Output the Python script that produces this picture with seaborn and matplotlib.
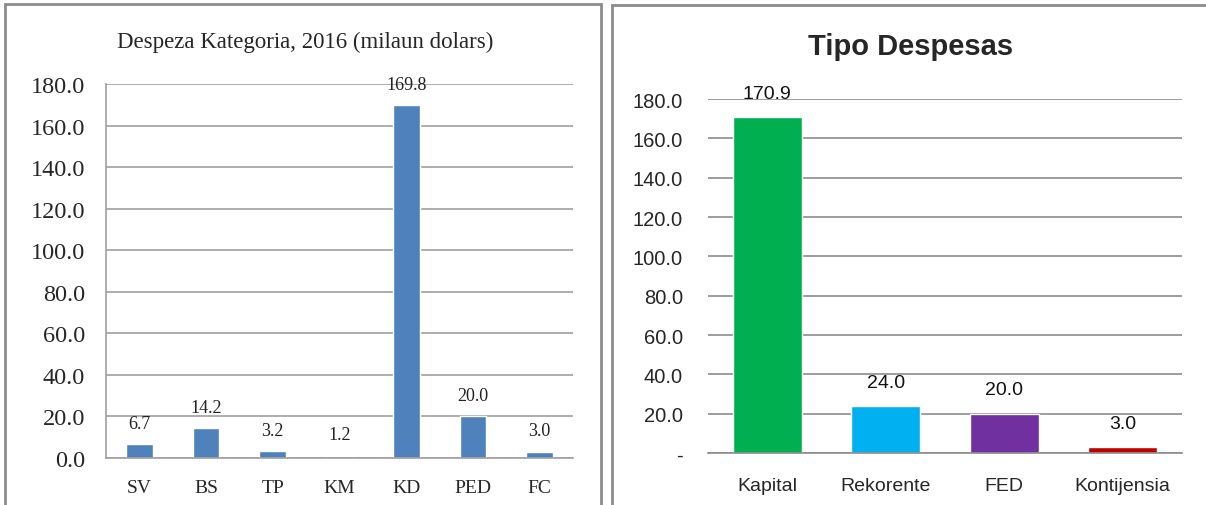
import matplotlib
matplotlib.use("Agg")
import matplotlib.pyplot as plt
import seaborn as sns
from matplotlib.patches import Rectangle
from matplotlib.ticker import FuncFormatter

# Data
kategoria = ["SV", "BS", "TP", "KM", "KD", "PED", "FC"]
kategoria_val = [6.7, 14.2, 3.2, 1.2, 169.8, 20.0, 3.0]

tipo = ["Kapital", "Rekorente", "FED", "Kontijensia"]
tipo_val = [170.9, 24.0, 20.0, 3.0]
tipo_cores = ["#00B050", "#00B0F0", "#7030A0", "#C00000"]

sns.set_style("white")

fig = plt.figure(figsize=(12.06, 5.06), dpi=100)
W, H = 1206, 506

# panel borders (pixel coords -> figure fraction)
def box(x0, y0, x1, y1):
    r = Rectangle((x0 / W, 1 - y1 / H), (x1 - x0) / W, (y1 - y0) / H,
                  transform=fig.transFigure, fill=False,
                  edgecolor="#8c8c8c", linewidth=2)
    fig.add_artist(r)

box(5, 5, 601, 540)
box(612, 6, 1240, 540)

# -------------------------
# Left: Despeza Kategoria
# -------------------------
serif = "Liberation Serif"
ax1 = fig.add_axes([106 / W, 1 - 459 / H, (573 - 106) / W, (459 - 85) / H])
sns.barplot(x=kategoria, y=kategoria_val, ax=ax1, color="#4F81BD", width=0.4,
            saturation=1)
ax1.set_ylim(0, 180)
ax1.set_yticks(range(0, 181, 20))
ax1.yaxis.set_major_formatter(FuncFormatter(lambda v, p: f"{v:.1f}"))
ax1.grid(axis="y", color="#a0a0a0", linewidth=1.2)
ax1.set_axisbelow(True)
for s in ["top", "right"]:
    ax1.spines[s].set_visible(False)
for s in ["left", "bottom"]:
    ax1.spines[s].set_color("#a0a0a0")
    ax1.spines[s].set_linewidth(1.2)
ax1.tick_params(axis="y", length=0, pad=15, labelsize=17.5)
ax1.tick_params(axis="x", length=0, pad=15, labelsize=14)
for lab in ax1.get_xticklabels() + ax1.get_yticklabels():
    lab.set_fontfamily(serif)
ax1.bar_label(ax1.containers[0], fmt="%.1f", padding=9, fontsize=13,
              family=serif, color="#222222")
fig.text(305 / W, 1 - 42 / H, "Despeza Kategoria, 2016 (milaun dolars)",
         family=serif, fontsize=16.5, ha="center", va="center")

# -------------------------
# Right: Tipo Despesas
# -------------------------
sans = "Liberation Sans"
ax2 = fig.add_axes([708 / W, 1 - 454 / H, (1182 - 708) / W, (454 - 100) / H])
sns.barplot(x=tipo, y=tipo_val, hue=tipo, palette=tipo_cores, legend=False,
            ax=ax2, width=0.58, saturation=1)
ax2.set_ylim(0, 180)
ax2.set_yticks(range(0, 181, 20))
ax2.yaxis.set_major_formatter(FuncFormatter(lambda v, p: "-" if v == 0 else f"{v:.1f}"))
ax2.grid(axis="y", color="#8c8c8c", linewidth=1.2)
ax2.set_axisbelow(True)
for s in ["top", "right", "left"]:
    ax2.spines[s].set_visible(False)
ax2.spines["bottom"].set_color("#8c8c8c")
ax2.spines["bottom"].set_linewidth(1.2)
ax2.tick_params(axis="y", length=0, pad=18, labelsize=14.5)
ax2.tick_params(axis="x", length=0, pad=17, labelsize=14)
for lab in ax2.get_xticklabels() + ax2.get_yticklabels():
    lab.set_fontfamily(sans)
for c in ax2.containers:
    ax2.bar_label(c, fmt="%.1f", padding=11, fontsize=14, family=sans,
                  color="#111111")
fig.text(911 / W, 1 - 47 / H, "Tipo Despesas", family=sans, fontsize=21,
         fontweight="bold", ha="center", va="center")

fig.savefig("out.png", dpi=100)
